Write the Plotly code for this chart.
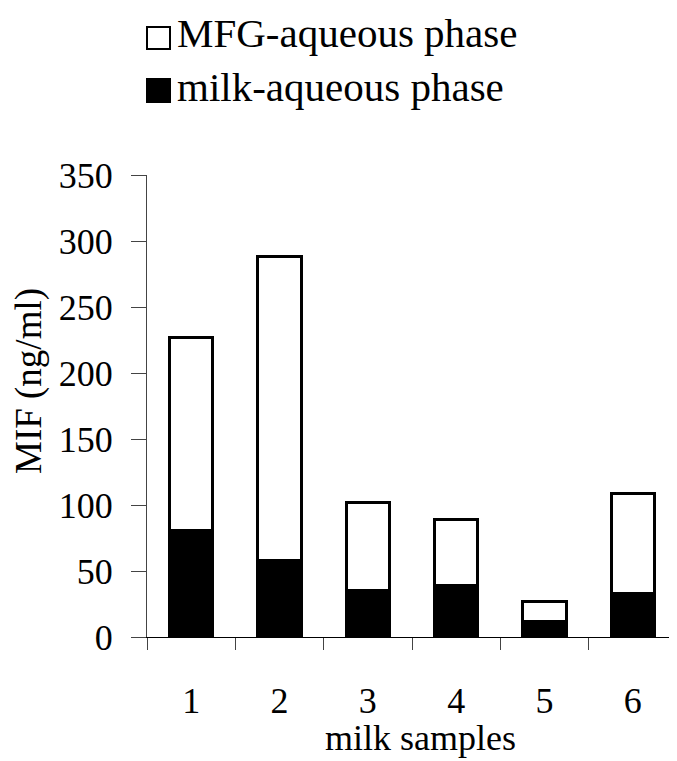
import plotly.graph_objects as go

# ---- data ----
samples = ["1", "2", "3", "4", "5", "6"]
milk_aqueous = [81, 58, 35, 39, 12, 33]          # black (bottom) segment
mfg_aqueous = [146, 230, 67, 50, 15, 76]         # white (top) segment
y_ticks = [0, 50, 100, 150, 200, 250, 300, 350]

FONT = "Liberation Serif"
OFF = 8  # default page margin of the html body
W, H = 677 - OFF, 761 - OFF
# plot area in page pixels: x 147..677, y 175..637
L, R = 147 - OFF, 0
T, B = 175 - OFF, 761 - 637
PW, PH = W - L - R, H - T - B


def px(x):
    """page pixel x -> paper coordinate"""
    return (x - OFF - L) / PW


def py(y):
    """page pixel y -> paper coordinate"""
    return (H - B - (y - OFF)) / PH


fig = go.Figure()
fig.add_trace(go.Bar(
    x=samples, y=milk_aqueous, name="milk-aqueous phase",
    marker=dict(color="black", line=dict(color="black", width=3)),
    showlegend=False,
))
fig.add_trace(go.Bar(
    x=samples, y=mfg_aqueous, name="MFG-aqueous phase",
    marker=dict(color="white", line=dict(color="black", width=3)),
    showlegend=False,
))

# manual legend (large squares like the reference)
shapes = [
    dict(type="rect", xref="paper", yref="paper",
         x0=px(147), x1=px(170), y0=py(49), y1=py(27),
         line=dict(color="black", width=2), fillcolor="white"),
    dict(type="rect", xref="paper", yref="paper",
         x0=px(147), x1=px(170), y0=py(102), y1=py(79),
         line=dict(color="black", width=2), fillcolor="black"),
]
annotations = [
    dict(text="MFG-aqueous phase", xref="paper", yref="paper",
         x=px(175), y=py(33), xanchor="left", yanchor="middle",
         showarrow=False, font=dict(family=FONT, size=41, color="black")),
    dict(text="milk-aqueous phase", xref="paper", yref="paper",
         x=px(175), y=py(87), xanchor="left", yanchor="middle",
         showarrow=False, font=dict(family=FONT, size=41, color="black")),
    dict(text="MIF (ng/ml)", xref="paper", yref="paper",
         x=px(29), y=py(381), xanchor="center", yanchor="middle",
         textangle=-90, showarrow=False,
         font=dict(family=FONT, size=37, color="black")),
    dict(text="milk samples", xref="paper", yref="paper",
         x=px(420), y=py(738), xanchor="center", yanchor="middle",
         showarrow=False, font=dict(family=FONT, size=36, color="black")),
]

fig.update_layout(
    width=W, height=H,
    margin=dict(l=L, r=R, t=T, b=B, pad=0),
    barmode="stack", bargap=0.51,
    plot_bgcolor="white", paper_bgcolor="white",
    font=dict(family=FONT, color="black"),
    shapes=shapes, annotations=annotations,
    showlegend=False,
)
fig.update_xaxes(
    type="category", range=[-0.5, 5.5],
    showline=True, linecolor="black", linewidth=1,
    ticks="outside", tickson="boundaries", ticklen=12, tickcolor="#444",
    tickfont=dict(family=FONT, size=36, color="black"),
    ticklabelstandoff=32,
    showgrid=False, zeroline=False,
)
fig.update_yaxes(
    range=[0, 350], tickvals=y_ticks,
    showline=True, linecolor="#444", linewidth=1,
    ticks="outside", ticklen=15, tickcolor="#444",
    tickfont=dict(family=FONT, size=36, color="black"),
    ticklabelstandoff=11,
    showgrid=False, zeroline=False,
)

fig.write_html("out.html")
